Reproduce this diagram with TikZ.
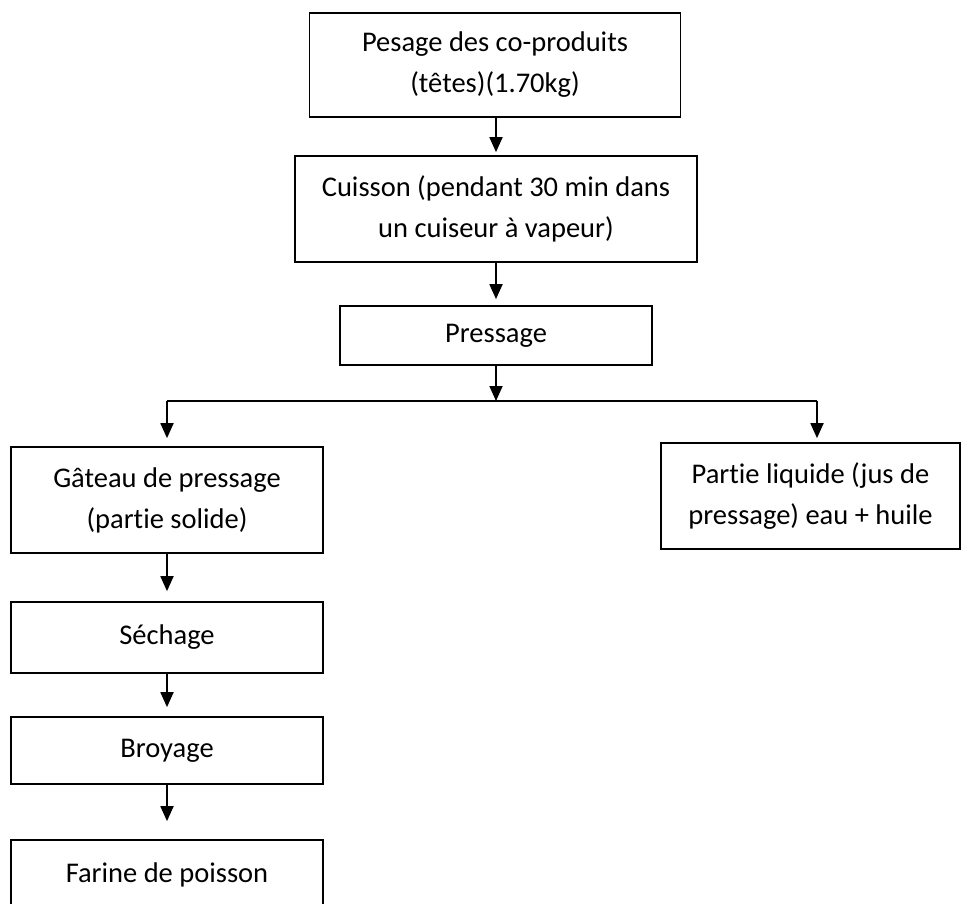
\documentclass[tikz,border=0pt]{standalone}
\usepackage{fontspec}
\setmainfont[Ligatures=NoCommon]{Carlito}
\usetikzlibrary{arrows.meta}
\tikzset{
  box/.style={draw=black, line width=1.7pt, rectangle, inner sep=0pt, align=center,
    font=\fontsize{28.5}{41}\selectfont, text=black},
  arr/.style={line width=1.8pt, -{Triangle[length=15pt,width=13pt]}},
  ln/.style={line width=1.8pt}
}
\begin{document}
\begin{tikzpicture}[x=1pt,y=-1pt]
\useasboundingbox (0,0) rectangle (962,904);
\node[box, minimum width=371pt, minimum height=104pt] (b1) at (495,65) {Pesage des co-produits\\(têtes)(1.70kg)};
\node[box, minimum width=402pt, minimum height=106pt] (b2) at (496,209) {Cuisson (pendant 30 min dans\\un cuiseur à vapeur)};
\node[box, minimum width=312pt, minimum height=59pt] (b3) at (496,335.5) {Pressage};
\node[box, minimum width=312pt, minimum height=106pt] (b4) at (167,500) {Gâteau de pressage\\(partie solide)};
\node[box, minimum width=299pt, minimum height=106pt] (b5) at (810.5,496) {Partie liquide (jus de\\pressage) eau + huile};
\node[box, minimum width=312pt, minimum height=71pt] (b6) at (167,637.5) {Séchage};
\node[box, minimum width=312pt, minimum height=67pt] (b7) at (167,750.5) {Broyage};
\node[box, minimum width=312pt, minimum height=70pt] (b8) at (167,875) {Farine de poisson};
\coordinate (hl) at (167,401);
\coordinate (hr) at (817,401);
\draw[arr, shorten >=3pt] (b1.south -| b2.north) -- (b2.north);
\draw[arr, shorten >=6pt] (b2.south) -- (b3.north);
\draw[arr] (b3.south) -- (b3.south |- hl);
\draw[ln] (hl) -- (hr);
\draw[arr, shorten >=8pt] (hl) -- (hl |- b4.north);
\draw[arr, shorten >=4pt] (hr) -- (hr |- b5.north);
\draw[arr, shorten >=10pt] (b4.south) -- (b6.north);
\draw[arr, shorten >=9pt] (b6.south) -- (b7.north);
\draw[arr, shorten >=18pt] (b7.south) -- (b8.north);
\end{tikzpicture}
\end{document}
